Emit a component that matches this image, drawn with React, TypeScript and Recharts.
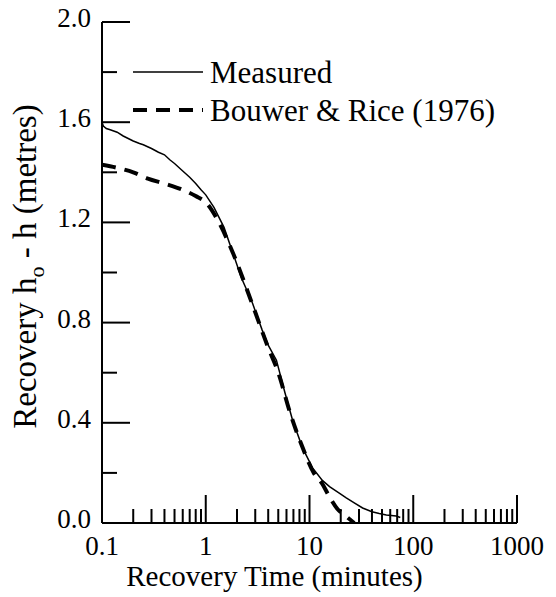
import React from 'react';
import { LineChart, Line, XAxis, YAxis, Legend } from 'recharts';

// Measured recovery curve (time in minutes, recovery in metres)
const measuredTime = [
  0.1, 0.103, 0.11, 0.12, 0.14, 0.16, 0.2, 0.23, 0.25, 0.3, 0.35, 0.4, 0.45,
  0.5, 0.6, 0.7, 0.8, 0.9, 1.0, 1.2, 1.5, 1.82, 2.2, 2.83, 3.5, 4.0, 4.8, 5.8,
  6.87, 8.57, 10.7, 13.3, 15.6, 20, 22.6, 27, 32.5, 40, 47, 55, 68.5, 75,
];
const measuredRecovery = [
  1.6, 1.585, 1.575, 1.57, 1.56, 1.545, 1.525, 1.515, 1.51, 1.495, 1.48, 1.47,
  1.45, 1.435, 1.405, 1.38, 1.355, 1.33, 1.31, 1.26, 1.18, 1.08, 0.98, 0.876,
  0.77, 0.71, 0.65, 0.52, 0.41, 0.3, 0.22, 0.17, 0.145, 0.115, 0.1, 0.08, 0.06,
  0.045, 0.038, 0.032, 0.028, 0.022,
];

// Bouwer & Rice (1976) fit
const bouwerTime = [
  0.1, 0.15, 0.2, 0.277, 0.4, 0.6, 0.8, 1.0, 1.3, 1.82, 2.83, 4, 5, 6.5, 8.6,
  11, 13.1, 15.8, 18.6, 22, 27,
];
const bouwerRecovery = [
  1.43, 1.415, 1.4, 1.375, 1.355, 1.33, 1.305, 1.28, 1.21, 1.08, 0.87, 0.7,
  0.6, 0.44, 0.3, 0.2, 0.16, 0.1, 0.056, 0.03, 0,
];

const legendOrder = ['Measured', 'Bouwer & Rice (1976)'];

const xMajorTicks = [0.1, 1, 10, 100, 1000];
const xTicks = [
  0.1, 0.2, 0.3, 0.4, 0.5, 0.6, 0.7, 0.8, 0.9,
  1, 2, 3, 4, 5, 6, 7, 8, 9,
  10, 20, 30, 40, 50, 60, 70, 80, 90,
  100, 200, 300, 400, 500, 600, 700, 800, 900,
  1000,
];
const yTicks = [0, 0.2, 0.4, 0.6, 0.8, 1.0, 1.2, 1.4, 1.6, 1.8, 2.0];
const yMajorTicks = [0, 0.4, 0.8, 1.2, 1.6, 2.0];

const measuredData = measuredTime.map((t, i) => ({ t, y: measuredRecovery[i] }));
const bouwerData = bouwerTime.map((t, i) => ({ t, y: bouwerRecovery[i] }));

// no serif face in the sandbox, Liberation Sans is what we actually get
const FONT = "'Liberation Serif', 'Times New Roman', 'Liberation Sans', serif";

const BottomTick = ({ x, y, payload }: any) => {
  const major = xMajorTicks.includes(payload.value);
  return (
    <g>
      <line x1={x} x2={x} y1={y} y2={y - (major ? 28 : 14)} stroke="#000" strokeWidth={2} />
      {major && (
        <text x={x} y={y + 32} textAnchor="middle" fontFamily={FONT} fontSize={27} fill="#000">
          {payload.value}
        </text>
      )}
    </g>
  );
};

const TopTick = ({ x, y, payload }: any) => {
  const major = xMajorTicks.includes(payload.value);
  return <line x1={x} x2={x} y1={y} y2={y + (major ? 28 : 13)} stroke="#000" strokeWidth={2} />;
};

const LeftTick = ({ x, y, payload }: any) => {
  const major = yMajorTicks.includes(payload.value);
  return (
    <g>
      <line x1={x} x2={x + (major ? 28 : 15)} y1={y} y2={y} stroke="#000" strokeWidth={2} />
      {major && (
        <text x={x - 11} y={y + 5} textAnchor="end" fontFamily={FONT} fontSize={27} fill="#000">
          {payload.value.toFixed(1)}
        </text>
      )}
    </g>
  );
};

const RightTick = ({ x, y, payload }: any) => {
  const major = yMajorTicks.includes(payload.value);
  return <line x1={x} x2={x - (major ? 26 : 14)} y1={y} y2={y} stroke="#000" strokeWidth={2} />;
};

const renderLegend = ({ payload }: any) => {
  const items = [...(payload || [])].sort(
    (a: any, b: any) => legendOrder.indexOf(a.value) - legendOrder.indexOf(b.value)
  );
  return (
    <svg width={400} height={90}>
      {items.map((entry: any, i: number) => (
        <g key={i} transform={`translate(0, ${20 + i * 38})`}>
          <line
            x1={5}
            x2={75}
            y1={0}
            y2={0}
            stroke="#000"
            strokeWidth={entry.payload?.strokeWidth || 1.5}
            strokeDasharray={entry.payload?.strokeDasharray}
          />
          <text x={82} y={11} fontFamily={FONT} fontSize={31} fill="#000">
            {entry.value}
          </text>
        </g>
      ))}
    </svg>
  );
};

const YTitle = ({ viewBox }: any) => {
  const cy = viewBox.y + viewBox.height / 2 - 6;
  return (
    <text
      transform={`translate(36, ${cy}) rotate(-90)`}
      textAnchor="middle"
      fontFamily={FONT}
      fontSize={33}
      fill="#000"
    >
      Recovery h<tspan fontSize={22} dy={8}>o</tspan>
      <tspan dy={-8}> - h (metres)</tspan>
    </text>
  );
};

const XTitle = ({ viewBox }: any) => (
  <text
    x={viewBox.x + viewBox.width / 2 - 35}
    y={viewBox.y + 63}
    textAnchor="middle"
    fontFamily={FONT}
    fontSize={29}
    fill="#000"
  >
    Recovery Time (minutes)
  </text>
);

export default function App() {
  return (
    <div style={{ width: 556, height: 597, background: '#fff' }}>
      <style>{'body{margin:0}'}</style>
      <LineChart width={556} height={597} margin={{ top: 22, right: 39, bottom: 0, left: 0 }}>
        <XAxis
          dataKey="t"
          type="number"
          scale="log"
          domain={[0.1, 1000]}
          allowDataOverflow
          ticks={xTicks}
          interval={0}
          tickSize={0}
          tickMargin={0}
          tickLine={false}
          tick={<BottomTick />}
          height={74}
          axisLine={{ stroke: '#000', strokeWidth: 2 }}
          label={{ content: <XTitle /> }}
        />
        <XAxis
          xAxisId="top"
          orientation="top"
          dataKey="t"
          type="number"
          scale="log"
          domain={[0.1, 1000]}
          allowDataOverflow
          ticks={xTicks}
          interval={0}
          tickSize={0}
          tickMargin={0}
          tickLine={false}
          tick={<TopTick />}
          height={0}
          axisLine={{ stroke: '#000', strokeWidth: 2 }}
        />
        <YAxis
          type="number"
          domain={[0, 2]}
          allowDataOverflow
          ticks={yTicks}
          interval={0}
          tickSize={0}
          tickMargin={0}
          tickLine={false}
          tick={<LeftTick />}
          width={102}
          axisLine={{ stroke: '#000', strokeWidth: 2 }}
          label={{ content: <YTitle /> }}
        />
        <YAxis
          yAxisId="right"
          orientation="right"
          type="number"
          domain={[0, 2]}
          allowDataOverflow
          ticks={yTicks}
          interval={0}
          tickSize={0}
          tickMargin={0}
          tickLine={false}
          tick={<RightTick />}
          width={0}
          axisLine={{ stroke: '#000', strokeWidth: 2 }}
        />
        <Legend
          layout="vertical"
          align="center"
          verticalAlign="middle"
          wrapperStyle={{ top: 52, left: 128, width: 400 }}
          content={renderLegend}
        />
        <Line
          data={measuredData}
          dataKey="y"
          name="Measured"
          stroke="#000"
          strokeWidth={1.5}
          dot={false}
          type="linear"
          isAnimationActive={false}
        />
        <Line
          data={bouwerData}
          dataKey="y"
          name="Bouwer & Rice (1976)"
          stroke="#000"
          strokeWidth={4}
          strokeDasharray="14 9"
          dot={false}
          type="monotone"
          isAnimationActive={false}
        />
      </LineChart>
    </div>
  );
}
